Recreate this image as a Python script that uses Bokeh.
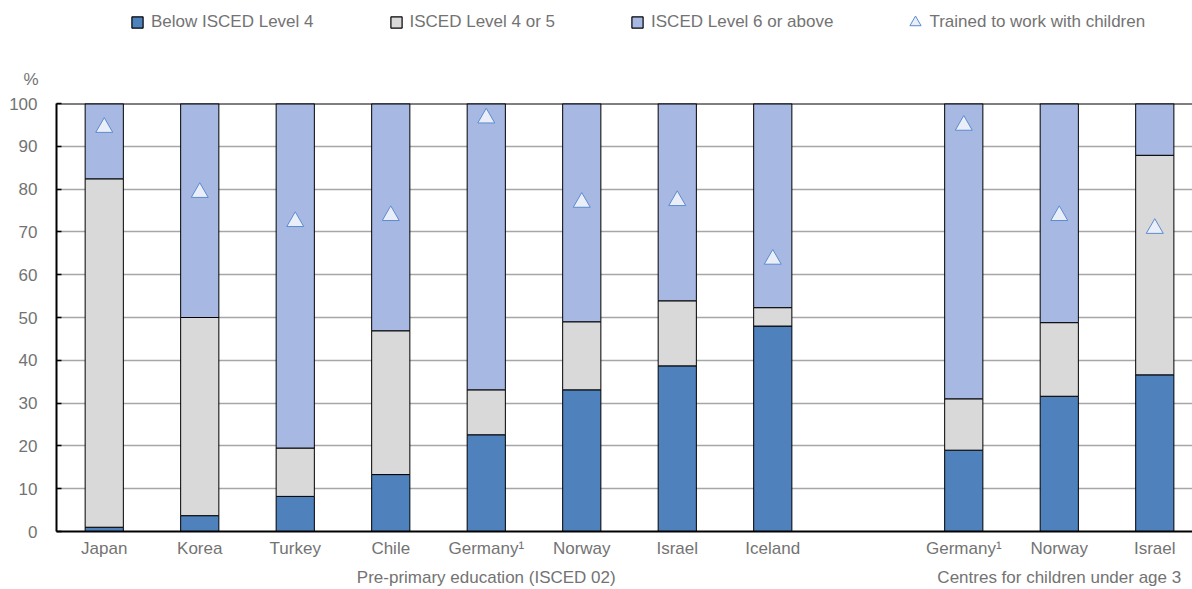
from bokeh.plotting import figure
from bokeh.layouts import column
from bokeh.models import (ColumnDataSource, Range1d, LinearAxis, FixedTicker, Legend,
                          LegendItem, Span)
from bokeh.embed import file_html
from bokeh.resources import INLINE

# ---- data ----
group_names = ["Pre-primary education (ISCED 02)", "Centres for children under age 3"]
group1_countries = ["Japan", "Korea", "Turkey", "Chile", "Germany\u00b9", "Norway", "Israel", "Iceland"]
group2_countries = ["Germany\u00b9", "Norway", "Israel"]
below_isced4 = [1.0, 3.7, 8.2, 13.3, 22.6, 33.1, 38.7, 48.0, 19.0, 31.6, 36.6]
isced4_or_5 = [81.4, 46.3, 11.3, 33.6, 10.5, 15.9, 15.2, 4.3, 12.0, 17.2, 51.3]
isced6_above = [17.6, 50.0, 80.5, 53.1, 66.9, 51.0, 46.1, 47.7, 69.0, 51.2, 12.1]
trained = [94.4, 79.2, 72.4, 73.8, 96.6, 76.9, 77.3, 63.6, 94.9, 73.8, 70.8]
y_ticks = [0, 10, 20, 30, 40, 50, 60, 70, 80, 90, 100]
series_labels = ["Below ISCED Level 4", "ISCED Level 4 or 5", "ISCED Level 6 or above"]
marker_label = "Trained to work with children"
unit_label = "%"

# ---- layout of categories ----
countries = group1_countries + group2_countries
n1 = len(group1_countries)
xpos = list(range(n1)) + [n1 + 1 + i for i in range(len(group2_countries))]
group_centers = [n1 / 2, sum(xpos[n1:]) / len(group2_countries)]

FONT = "Liberation Sans"
TXT = "#737373"
colors = ["#4f81bd", "#d9d9d9", "#a7b9e3"]
tri_fill, tri_line = "#e9eef8", "#5b8bd0"
W, H_LEG, H_MAIN = 1192, 40, 549

src = ColumnDataSource(dict(x=xpos, below=below_isced4, mid=isced4_or_5, top=isced6_above,
                            trained=trained))

# ---------------- main chart ----------------
p = figure(width=W, height=H_MAIN, output_backend="svg", toolbar_location=None,
           x_range=Range1d(-0.5, 11.395), y_range=Range1d(0, 100),
           min_border_left=56, min_border_right=0, min_border_top=63, min_border_bottom=58,
           x_axis_type=None, title=unit_label)
p.outline_line_color = None
p.background_fill_color = "white"
p.title.align = "left"
p.title.offset = -33
p.title.standoff = 30
p.title.text_font = FONT
p.title.text_font_size = "17px"
p.title.text_font_style = "normal"
p.title.text_color = TXT

bars = p.vbar_stack(["below", "mid", "top"], x="x", width=0.4, color=colors,
                    line_color="black", line_width=1, source=src)
tri = p.scatter("x", "trained", marker="triangle", size=17, fill_color=tri_fill,
                line_color=tri_line, line_width=1, source=src)

yax = p.yaxis[0]
yax.ticker = FixedTicker(ticks=y_ticks)
yax.minor_tick_line_color = None
yax.major_tick_in = 5
yax.major_tick_out = 0
yax.major_tick_line_color = "black"
yax.major_tick_line_width = 1.5
yax.axis_line_color = "black"
yax.axis_line_width = 2
yax.major_label_text_font = FONT
yax.major_label_text_font_size = "17px"
yax.major_label_text_color = TXT
yax.major_label_standoff = 19

p.ygrid.ticker = FixedTicker(ticks=y_ticks)
p.ygrid.grid_line_color = "#a6a6a6"
p.ygrid.grid_line_width = 1.5
p.xgrid.grid_line_color = None

p.add_layout(Span(location=100, dimension="width", line_color="black", line_width=2))

xax = LinearAxis(ticker=FixedTicker(ticks=xpos),
                 major_label_overrides={x: c for x, c in zip(xpos, countries)})
xax.axis_line_color = "black"
xax.axis_line_width = 2
xax.major_tick_line_color = None
xax.minor_tick_line_color = None
xax.major_label_text_font = FONT
xax.major_label_text_font_size = "17px"
xax.major_label_text_color = TXT
xax.major_label_standoff = 1
p.add_layout(xax, "below")

gax = LinearAxis(ticker=FixedTicker(ticks=group_centers),
                 major_label_overrides={x: g for x, g in zip(group_centers, group_names)})
gax.axis_line_color = None
gax.major_tick_line_color = None
gax.minor_tick_line_color = None
gax.major_label_text_font = FONT
gax.major_label_text_font_size = "17px"
gax.major_label_text_color = TXT
gax.major_label_standoff = 1
p.add_layout(gax, "below")

# ---------------- legend strip ----------------
lf = figure(width=W, height=H_LEG, output_backend="svg", toolbar_location=None,
            x_range=Range1d(0, 1), y_range=Range1d(0, 1), min_border=0,
            x_axis_type=None, y_axis_type=None)
lf.outline_line_color = None
lf.xgrid.grid_line_color = None
lf.ygrid.grid_line_color = None
nan = float("nan")
proxies = [lf.scatter(x=[nan], y=[nan], marker="square", fill_color=c, line_color="black",
                      line_width=1.2) for c in colors]
proxies.append(lf.scatter(x=[nan], y=[nan], marker="triangle", fill_color=tri_fill,
                          line_color=tri_line, line_width=1))
labels = series_labels + [marker_label]
leg = Legend(items=[LegendItem(label=l, renderers=[r]) for l, r in zip(labels, proxies)],
             orientation="horizontal", location=(67, 4), spacing=68,
             padding=0, margin=0, border_line_color=None, background_fill_alpha=0,
             glyph_width=28, glyph_height=28, label_standoff=-7,
             label_text_font=FONT, label_text_font_size="17px", label_text_color=TXT)
lf.add_layout(leg)

layout = column(lf, p, spacing=0)
open("out.html", "w").write(file_html(layout, INLINE))
